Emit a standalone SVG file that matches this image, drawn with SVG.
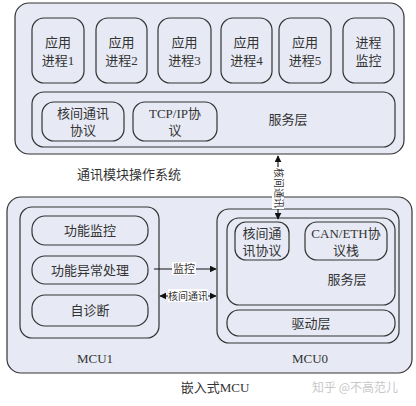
<svg xmlns="http://www.w3.org/2000/svg" width="416" height="406" viewBox="0 0 416 406">
<defs>
<style>
.b{fill:#e7eaf5;stroke:#333;stroke-width:1.2}
.t{font-family:"Liberation Serif","Noto Sans CJK SC",serif;font-size:13px;fill:#333;text-anchor:middle}
.c{stroke:#111;stroke-width:1.1;fill:none}
</style>
<marker id="ah" viewBox="0 0 10 10" refX="9" refY="5" markerWidth="7" markerHeight="7" orient="auto-start-reverse" markerUnits="userSpaceOnUse"><path d="M0,0L10,5L0,10Z" fill="#111"/></marker>
</defs>
<rect width="416" height="406" fill="#fff"/>
<g id="os">
<rect class="b" x="15" y="3" width="389" height="151" rx="14"/>
<text class="t" x="129" y="179">通讯模块操作系统</text>
</g>
<g id="app1"><rect class="b" x="32" y="18" width="52" height="65" rx="12"/><text class="t" x="58" y="47">应用</text><text class="t" x="58" y="65">进程1</text></g>
<g id="app2"><rect class="b" x="96" y="18" width="51" height="65" rx="12"/><text class="t" x="121.5" y="47">应用</text><text class="t" x="121.5" y="65">进程2</text></g>
<g id="app3"><rect class="b" x="158" y="18" width="53" height="65" rx="12"/><text class="t" x="184.5" y="47">应用</text><text class="t" x="184.5" y="65">进程3</text></g>
<g id="app4"><rect class="b" x="221" y="18" width="51" height="65" rx="12"/><text class="t" x="246.5" y="47">应用</text><text class="t" x="246.5" y="65">进程4</text></g>
<g id="app5"><rect class="b" x="279" y="18" width="52" height="65" rx="12"/><text class="t" x="305" y="47">应用</text><text class="t" x="305" y="65">进程5</text></g>
<g id="monitor"><rect class="b" x="343" y="18" width="51" height="65" rx="12"/><text class="t" x="368.5" y="47">进程</text><text class="t" x="368.5" y="65">监控</text></g>
<g id="svc-top">
<rect class="b" x="32" y="92" width="363" height="55" rx="12"/>
<text class="t" x="288" y="124">服务层</text>
</g>
<g id="ipc-top"><rect class="b" x="42" y="102" width="82" height="39" rx="12"/><text class="t" x="83" y="118">核间通讯</text><text class="t" x="83" y="135">协议</text></g>
<g id="tcp"><rect class="b" x="133" y="102" width="84" height="39" rx="12"/><text class="t" x="175" y="118">TCP/IP协</text><text class="t" x="175" y="135">议</text></g>
<g id="emb">
<rect class="b" x="7" y="197" width="405" height="176" rx="14"/>
<text class="t" x="215" y="392">嵌入式MCU</text>
</g>
<g id="mcu1">
<rect class="b" x="20" y="207" width="139" height="131" rx="12"/>
<text class="t" x="95" y="363">MCU1</text>
</g>
<g id="fm"><rect class="b" x="32" y="216" width="116" height="29" rx="13"/><text class="t" x="90" y="235">功能监控</text></g>
<g id="fe"><rect class="b" x="32" y="256" width="116" height="28" rx="13"/><text class="t" x="90" y="275">功能异常处理</text></g>
<g id="sd"><rect class="b" x="32" y="295" width="116" height="31" rx="13"/><text class="t" x="90" y="315">自诊断</text></g>
<g id="mcu0">
<rect class="b" x="217" y="209" width="182" height="134" rx="12"/>
<text class="t" x="310" y="363">MCU0</text>
</g>
<g id="svc-bot"><rect class="b" x="227" y="218" width="168" height="87" rx="12"/><text class="t" x="347" y="284">服务层</text></g>
<g id="ipc-bot"><rect class="b" x="235" y="222" width="54" height="38" rx="11"/><text class="t" x="262" y="238">核间通</text><text class="t" x="262" y="255">讯协议</text></g>
<g id="can"><rect class="b" x="305" y="222" width="82" height="38" rx="12"/><text class="t" x="346" y="238">CAN/ETH协</text><text class="t" x="346" y="255">议栈</text></g>
<g id="drv"><rect class="b" x="227" y="310" width="168" height="26" rx="12"/><text class="t" x="311" y="328">驱动层</text></g>
<g id="connectors">
<line class="c" x1="278" y1="219" x2="278" y2="156" marker-start="url(#ah)" marker-end="url(#ah)"/>
<rect x="272" y="167" width="12" height="42" fill="#fff"/>
<text class="t" style="font-size:10px" transform="translate(278,188) rotate(90)" y="3.5">核间通讯</text>
<line class="c" x1="154" y1="269" x2="216" y2="269" marker-end="url(#ah)"/>
<rect x="172" y="262" width="24" height="13" fill="#fff"/>
<text class="t" style="font-size:11px" x="184" y="273">监控</text>
<line class="c" x1="160" y1="296" x2="216" y2="296" marker-start="url(#ah)" marker-end="url(#ah)"/>
<rect x="168" y="289" width="40" height="13" fill="#fff"/>
<text class="t" style="font-size:10px" x="188" y="300">核间通讯</text>
</g>
<text x="355" y="392" style="font-family:'Noto Sans CJK SC',sans-serif;font-size:12px;fill:#c8c8c8;text-anchor:middle">知乎 @不高范儿</text>
</svg>
